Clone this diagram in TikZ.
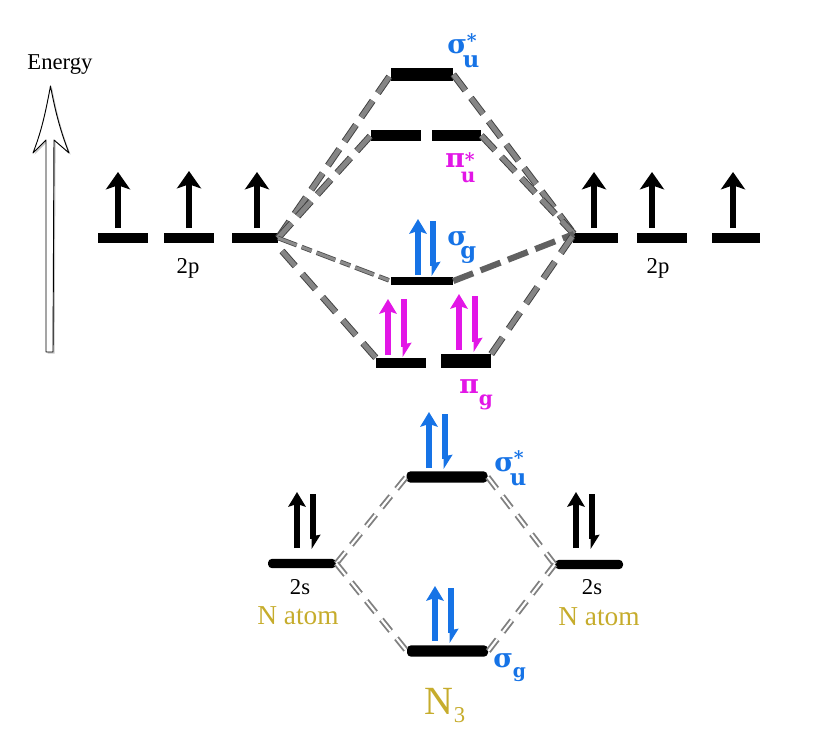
\documentclass[tikz,border=0pt]{standalone}
\usepackage{xcolor}
\usepackage{fontspec}
\setmainfont{Liberation Serif}
\newfontfamily\orbfont{DejaVu Serif}
\usepackage{tikz}
\usetikzlibrary{arrows.meta}
\usetikzlibrary{shadows}
\definecolor{orbblue}{HTML}{1673E6}
\definecolor{orbpink}{HTML}{E216E6}
\definecolor{atomgold}{HTML}{C6AC2C}
\newcommand{\orbsize}[1]{\fontsize{#1}{#1}\selectfont}
% symbol, lower letter, its drop, its size, raise of the star
\newcommand{\orbstar}[5]{{\orbfont\bfseries\orbsize{20}#1\kern-3pt\rlap{\raisebox{-#3}{\orbsize{#4}#2}}\kern3pt\raisebox{#5}{\orbsize{14}*}}}
% symbol, lower letter, kern, its drop, its size
\newcommand{\orbplain}[5]{{\orbfont\bfseries\orbsize{20}#1\kern#3\raisebox{-#4}{\orbsize{#5}#2}}}
\newcommand{\orbsizeseventeen}{\orbsize{17}}
\newcommand{\orbsizeatom}{\orbsize{20.5}}
\tikzset{
  level/.style={fill=black, inner sep=0, minimum height=7.5pt, minimum width=#1*.75pt},
  softlevel/.style={level=#1, rounded corners=3pt, minimum height=7pt},
  lbl/.style={inner sep=0, font=\orbsizeseventeen},
  atomlbl/.style={inner sep=0, text=atomgold, font=\orbsizeatom},
  orblbl/.style={inner sep=0, anchor=base west},
  up/.style={line width=3.8pt, -{Stealth[length=13pt, width=18pt, inset=3pt]}},
  down/.style={line width=3.8pt, -{Stealth[harpoon, length=9pt, width=11pt, inset=1pt]}},
  pairup/.style={line width=4pt, -{Stealth[length=11pt, width=13pt, inset=2pt]}},
  gate/.style={draw=black!75, double=black!48, line width=.7pt, double distance=3.6pt, dash pattern=on 15pt off 7pt},
  gatelow/.style={gate, dash pattern=on 15pt off 8pt},
  gatethin/.style={draw=black!70, double=black!45, line width=.6pt, double distance=2.2pt, dash pattern=on 15pt off 4pt on 8pt off 4pt},
  gatedark/.style={draw=black!62, line width=4.6pt, dash pattern=on 16pt off 6pt},
  twin/.style={draw=black!50, double=white, line width=1.4pt, double distance=1.6pt, dash pattern=on 11pt off 7pt}
}
\begin{document}
\begin{tikzpicture}[x=.75pt, y=-.75pt]
\useasboundingbox (0,0) rectangle (823,745);

\node[lbl] (energy) at (60,65) {Energy};
\filldraw[draw=black, fill=white, line width=.7pt, line join=round, drop shadow={shadow xshift=1.2pt, shadow yshift=-1.2pt, opacity=.45}]
  (46,352) -- (46,140) -- (33,153) .. controls (42,130) and (46,110) .. (50.5,86) .. controls (55,110) and (60,130) .. (69,153) -- (54,140) -- (53,352) -- cycle;

\node[level=50] (pa) at (123,238) {};
\node[level=50] (pb) at (189,238) {};
\node[level=46] (pc) at (255,238) {};
\node[level=45] (qa) at (595,238) {};
\node[level=50] (qb) at (662,238) {};
\node[level=48] (qc) at (736,238) {};
\node[lbl] (ptwoleft) at (188,268) {2p};
\node[lbl] (ptworight) at (658,268) {2p};

\draw[up] (118,228) -- (118,172);
\draw[up] (189,228) -- (189,171);
\draw[up] (257,228) -- (257,172);
\draw[up] (594,228) -- (594,172);
\draw[up] (652,228) -- (652,172);
\draw[up] (733,228) -- (733,172);

\node[level=62, minimum height=10pt] (sustar) at (422,74.5) {};
\node[level=50, minimum height=8pt] (pustarl) at (396,135.5) {};
\node[level=49, minimum height=8pt] (pustarr) at (456.5,135.5) {};
\node[level=62, minimum height=6pt] (sg) at (422,281) {};
\node[level=50] (pgl) at (401,363) {};
\node[level=50, minimum height=10pt] (pgr) at (466,361) {};

\coordinate (leftjoin) at (278,238);
\coordinate (rightjoin) at (574,234);
\coordinate (leftlow) at (282,251);

\draw[gate] (leftjoin) -- (sustar.west);
\draw[gate] (leftjoin) -- (pustarl.west);
\draw[gate] (sustar.east) -- (rightjoin);
\draw[gate] (pustarr.east) -- (rightjoin);
\draw[gatethin] (leftjoin) -- (sg.west);
\draw[gatedark] (sg.east) -- (rightjoin);
\draw[gatelow] (leftlow) -- (pgl.north west);
\draw[gatelow] (pgr.north east) -- (rightjoin);

\draw[pairup, orbblue] (418,275) -- (418,219);
\draw[down, orbblue] (433,221) -- (433,276);
\draw[pairup, orbpink] (388,355) -- (388,299);
\draw[down, orbpink] (404,299) -- (404,357);
\draw[pairup, orbpink] (459,350) -- (459,294);
\draw[down, orbpink] (475,296) -- (475,352);

\node[orblbl, text=orbblue] (lsustar) at (447,54) {\orbstar{σ}{u}{10.5pt}{17}{5pt}};
\node[orblbl, text=orbpink] (lpustar) at (445,168) {\orbstar{π}{u}{11pt}{15}{1pt}};
\node[orblbl, text=orbblue] (lsg) at (447,245) {\orbplain{σ}{g}{-5pt}{10pt}{17}};
\node[orblbl, text=orbpink] (lpg) at (459,393) {\orbplain{π}{g}{0pt}{9pt}{15}};

\node[softlevel=68] (sl) at (302,563.5) {};
\node[softlevel=68] (sr) at (589,564.5) {};
\node[softlevel=81, minimum height=8.5pt] (ssu) at (447,477) {};
\node[softlevel=81, minimum height=8.5pt] (ssg) at (447.5,651) {};

\draw[twin] (sl.east) -- (ssu.west);
\draw[twin] (ssu.east) -- (sr.west);
\draw[twin] (sl.east) -- (ssg.west);
\draw[twin] (ssg.east) -- (sr.west);

\draw[pairup, black] (297,548) -- (297,492);
\draw[down, black] (313,494) -- (313,549);
\draw[pairup, black] (576,548) -- (576,492);
\draw[down, black] (592,494) -- (592,549);
\draw[pairup, orbblue] (429,468) -- (429,412);
\draw[down, orbblue] (445,414) -- (445,469);
\draw[pairup, orbblue] (435,641) -- (435,586);
\draw[down, orbblue] (451,588) -- (451,643);

\node[orblbl, text=orbblue] (lssu) at (494,471) {\orbstar{σ}{u}{11pt}{17}{5pt}};
\node[orblbl, text=orbblue] (lssg) at (493,667) {\orbplain{σ}{g}{0pt}{8pt}{14}};

\node[lbl] (stwoleft) at (300,587) {2s};
\node[lbl] (stworight) at (592,587) {2s};
\node[atomlbl] (atomleft) at (298,616) {N atom};
\node[atomlbl] (atomright) at (599,617) {N atom};
\node[inner sep=0, text=atomgold, font=\orbsize{30}] (molecule) at (445,706) {N\raisebox{-6pt}{\orbsize{17}3}};
\end{tikzpicture}
\end{document}
